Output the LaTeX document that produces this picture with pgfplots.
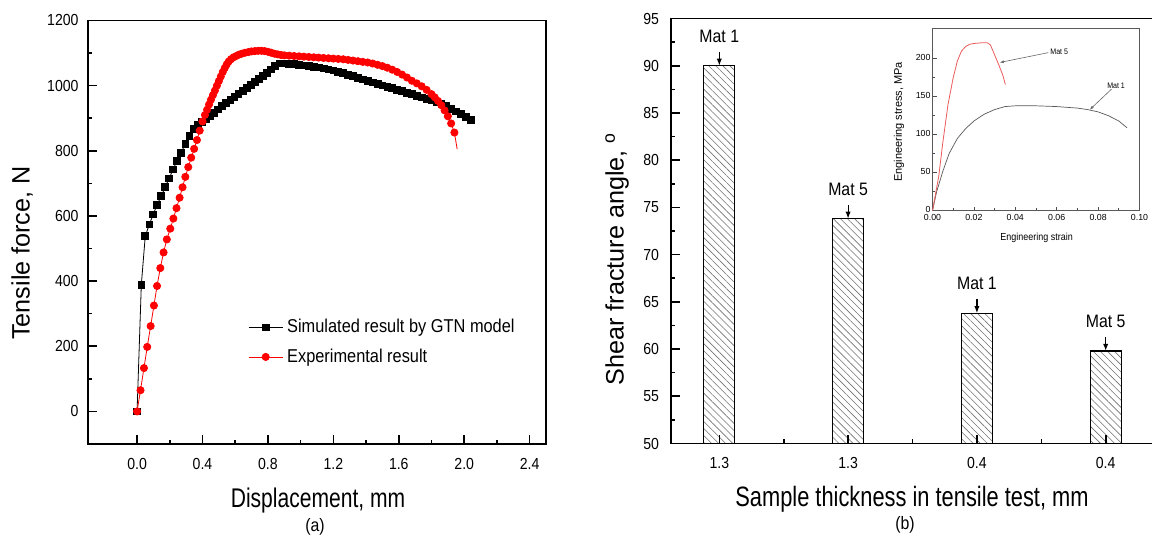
\documentclass[border=0pt]{standalone}
\usepackage{fontspec}
\setmainfont{Liberation Sans}[FakeStretch=0.88]
\newfontfamily\labfont{Liberation Sans}[FakeStretch=0.78]
\newfontfamily\rotfont{Liberation Sans}
\usepackage{pgfplots}
\pgfplotsset{compat=1.18}
\usetikzlibrary{arrows.meta,patterns.meta}

\begin{document}
\begin{tikzpicture}
\useasboundingbox (0,0) rectangle (576pt,272.5pt);

% (a) force - displacement
\begin{axis}[
    at={(44pt,50.5pt)}, anchor=south west,
    scale only axis, width=229pt, height=211.75pt,
    xmin=-0.3, xmax=2.5, ymin=-100, ymax=1200,
    xtick={0,0.4,0.8,1.2,1.6,2.0,2.4}, ytick={0,200,...,1200},
    minor x tick num=1, minor y tick num=1,
    tick align=inside, tick pos=left,
    major tick length=4.3pt, minor tick length=2.2pt,
    axis line style={line width=0.9pt},
    every tick/.style={black, line width=0.8pt},
    tick label style={font=\fontsize{8}{9}\selectfont},
    /pgf/number format/assume math mode=true,
    /pgf/number format/1000 sep={},
    xticklabel style={yshift=-3.5pt, /pgf/number format/.cd, fixed, fixed zerofill, precision=1},
    yticklabel style={xshift=-1.2pt},
    scaled x ticks=false, scaled y ticks=false,
    legend style={draw=none, fill=none, at={(0.349,0.305)}, anchor=north west,
        font=\fontsize{9.3}{11}\selectfont, row sep=2.5pt, inner sep=0pt},
    legend cell align=left,
]
\addplot[black, line width=0.4pt, mark=square*, mark size=1.7pt] coordinates {
(0,0) (0.026,389) (0.05,538) (0.075,574) (0.099,605) (0.123,635) (0.148,661)
(0.172,689) (0.196,715) (0.22,743) (0.245,769) (0.27,794) (0.295,822) (0.32,846)
(0.345,866) (0.37,879) (0.395,889) (0.42,898) (0.445,907) (0.47,917) (0.495,927)
(0.52,937) (0.545,947) (0.57,957) (0.595,966) (0.62,975) (0.645,984) (0.67,993)
(0.695,1002) (0.72,1011) (0.745,1020) (0.77,1030) (0.795,1040) (0.82,1050)
(0.845,1060) (0.87,1068) (0.90,1068) (0.93,1067) (0.96,1066) (0.99,1064)
(1.02,1062) (1.05,1060) (1.08,1058) (1.11,1056) (1.14,1053) (1.17,1050)
(1.20,1047) (1.23,1043) (1.26,1038) (1.29,1034) (1.32,1029) (1.35,1024)
(1.38,1019) (1.41,1015) (1.44,1010) (1.47,1006) (1.50,1001) (1.53,997)
(1.56,992) (1.59,987) (1.62,983) (1.65,978) (1.68,974) (1.71,969) (1.74,964)
(1.77,959) (1.80,955) (1.83,950) (1.86,944) (1.89,937) (1.92,929) (1.95,921)
(1.98,913) (2.01,905) (2.04,896)
};
\addlegendentry{Simulated result by GTN model}
\addplot[red, line width=0.4pt, mark=*, mark size=1.8pt, mark options={fill=red}] coordinates {
(0,0) (0.021,65) (0.042,133) (0.062,198) (0.083,262) (0.103,325) (0.122,385)
(0.142,440) (0.162,488) (0.182,528) (0.203,561) (0.222,592) (0.241,624)
(0.26,656) (0.278,688) (0.295,720) (0.313,750) (0.331,779) (0.349,806)
(0.366,833) (0.383,862) (0.4,890) (0.415,910) (0.428,926) (0.44,942)
(0.452,957) (0.464,971) (0.476,985) (0.488,1000) (0.5,1014) (0.512,1028)
(0.524,1042) (0.536,1054) (0.548,1065) (0.56,1074) (0.574,1081) (0.59,1087)
(0.606,1091) (0.622,1095) (0.64,1098) (0.66,1101) (0.68,1103) (0.70,1105)
(0.72,1106) (0.74,1107) (0.76,1107) (0.78,1106) (0.80,1104) (0.82,1101)
(0.84,1098) (0.86,1096) (0.88,1094) (0.90,1093) (0.93,1092) (0.96,1091)
(0.99,1090) (1.02,1089) (1.05,1088) (1.08,1087) (1.11,1086) (1.14,1085)
(1.17,1084) (1.20,1083) (1.23,1082) (1.26,1081) (1.29,1079) (1.32,1077)
(1.35,1075) (1.38,1073) (1.41,1071) (1.44,1068) (1.47,1064) (1.50,1060)
(1.53,1055) (1.56,1049) (1.59,1042) (1.62,1034) (1.65,1025) (1.68,1015)
(1.71,1007) (1.74,998) (1.77,987) (1.80,974) (1.82,964) (1.84,953)
(1.86,940) (1.88,924) (1.90,906) (1.92,884) (1.94,856)
};
\addlegendentry{Experimental result}
\addplot[red, line width=0.4pt, forget plot] coordinates {(1.94,856) (1.957,805)};
\end{axis}

% (b) shear fracture angle
\begin{axis}[
    at={(335.5pt,50.75pt)}, anchor=south west,
    scale only axis, width=241.5pt, height=212.5pt,
    xmin=0.625, xmax=4.375, ymin=50, ymax=95,
    xtick={1,2,3,4}, xticklabels={1.3,1.3,0.4,0.4}, minor xtick={1.5,2.5,3.5},
    ytick={50,55,...,95}, minor y tick num=1,
    tick align=inside, tick pos=left, axis on top,
    major tick length=4.3pt, minor tick length=2.2pt,
    axis line style={line width=0.9pt},
    every tick/.style={black, line width=0.8pt},
    tick label style={font=\fontsize{8}{9}\selectfont},
    /pgf/number format/assume math mode=true,
    xticklabel style={yshift=-3.5pt},
    yticklabel style={xshift=-2.5pt},
]
\addplot[ybar, bar width=15.5pt, draw=black, line width=0.65pt, fill=white,
    postaction={pattern={Lines[angle=-45,distance=2.5pt,line width=0.3pt]}, pattern color=black!55}]
    coordinates {(1,90) (2,73.8) (3,63.8) (4,59.8)};
\foreach \xx/\yy/\mm in {1/90/1, 2/73.8/5, 3/63.8/1, 4/59.8/5} {
  \edef\tmp{\noexpand\draw[line width=0.6pt, -{Latex[length=3.5pt,width=2.6pt]}]
     ([yshift=7pt]axis cs:\xx,\yy) -- (axis cs:\xx,\yy);
   \noexpand\node[anchor=south, inner sep=0pt, font=\noexpand\fontsize{9}{10}\noexpand\selectfont]
     at ([yshift=11.5pt]axis cs:\xx,\yy) {Mat \mm};}
  \tmp
}
\end{axis}

% inset
\begin{axis}[
    at={(466.25pt,167.15pt)}, anchor=south west,
    scale only axis, width=103.5pt, height=91.2pt,
    xmin=0, xmax=0.1, ymin=0, ymax=240,
    xtick={0,0.02,0.04,0.06,0.08,0.1}, minor x tick num=1,
    ytick={0,50,100,150,200}, minor y tick num=1,
    tick align=inside, tick pos=left,
    major tick length=2pt, minor tick length=1.2pt,
    axis line style={black!65, line width=0.5pt},
    every tick/.style={black!70, line width=0.4pt},
    tick label style={font=\rotfont\fontsize{4.4}{5}\selectfont, inner sep=0.8pt},
    /pgf/number format/assume math mode=true,
    xticklabel style={yshift=-1pt, /pgf/number format/.cd, fixed, fixed zerofill, precision=2},
    yticklabel style={yshift=0.8pt},
    scaled x ticks=false,
    clip=false,
]
\addplot[black!65, line width=0.35pt] coordinates {
(0,0) (0.002,25) (0.005,52) (0.008,75) (0.012,95) (0.016,108) (0.02,118)
(0.025,127) (0.03,133) (0.035,137) (0.04,138) (0.05,138) (0.06,137)
(0.07,135) (0.075,133) (0.08,130) (0.085,125) (0.09,118) (0.094,109)
};
\addplot[color={rgb,255:red,235;green,90;blue,90}, line width=0.4pt] coordinates {
(0,0) (0.003,45) (0.005,90) (0.0075,140) (0.01,175) (0.012,197) (0.014,210)
(0.016,216) (0.018,219) (0.02,220) (0.024,221) (0.0265,221) (0.028,218)
(0.03,205) (0.032,192) (0.034,178) (0.0352,166)
};
\draw[black!60, line width=0.3pt, -{Latex[length=2pt,width=1.5pt]}] (axis cs:0.056,208) -- (axis cs:0.0325,195);
\node[font=\fontsize{4}{5}\selectfont, inner sep=0.5pt] at (axis cs:0.0612,209) {Mat 5};
\draw[black!60, line width=0.3pt, -{Latex[length=2pt,width=1.5pt]}] (axis cs:0.0865,160) -- (axis cs:0.076,133);
\node[font=\fontsize{4}{5}\selectfont, inner sep=0.5pt] at (axis cs:0.0887,165) {Mat 1};
\end{axis}

% labels
\node[rotate=90, font=\rotfont\fontsize{12.6}{14}\selectfont] at (11pt,146pt) {Tensile force, N};
\node[font=\labfont\fontsize{13.5}{15}\selectfont] at (159pt,22.2pt) {Displacement, mm};
\node[font=\fontsize{9}{10}\selectfont] at (157.5pt,9pt) {(a)};
\node[rotate=90, font=\rotfont\fontsize{12.6}{14}\selectfont] at (308.5pt,143pt) {Shear fracture angle, \textsuperscript{o}};
\node[font=\labfont\fontsize{14}{15}\selectfont] at (456pt,23pt) {Sample thickness in tensile test, mm};
\node[font=\fontsize{9}{10}\selectfont] at (452.5pt,10pt) {(b)};
\node[rotate=90, font=\rotfont\fontsize{5.5}{6}\selectfont] at (449.5pt,211.5pt) {Engineering stress, MPa};
\node[font=\fontsize{5.1}{6}\selectfont] at (518.3pt,153.8pt) {Engineering strain};
\end{tikzpicture}
\end{document}
